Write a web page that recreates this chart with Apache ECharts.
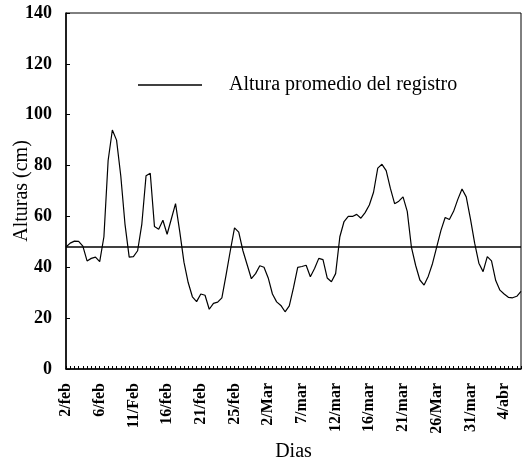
<!DOCTYPE html>
<html>
<head>
<meta charset="utf-8">
<script src="https://cdn.jsdelivr.net/npm/echarts@6/dist/echarts.min.js"></script>
<style>
  html, body { margin: 0; padding: 0; background: #fff; }
  #chart { width: 526px; height: 467px; }
</style>
</head>
<body>
<div id="chart"></div>
<script>
// --- datos ---
// etiquetas del eje X (una cada 8 marcas)
const dateLabels = ['2/feb', '6/feb', '11/Feb', '16/feb', '21/feb', '25/feb', '2/Mar',
  '7/mar', '12/mar', '16/mar', '21/mar', '26/Mar', '31/mar', '4/abr'];
const labelStep = 8;

// alturas registradas (cm)
const alturas = [
  48, 49.5, 50.3, 50.2, 48.3, 42.5, 43.5, 44, 42.2, 52,
  82, 94, 90, 76, 57, 44, 44.2, 46.5, 57, 76,
  77, 56, 55, 58.5, 53, 59, 65, 54, 42, 34,
  28.4, 26.5, 29.5, 29, 23.5, 25.8, 26.3, 28, 37, 46.5,
  55.5, 53.8, 46.5, 41, 35.5, 37.5, 40.6, 40, 35.8, 29.5,
  26.4, 25, 22.5, 24.8, 32, 40, 40.3, 40.8, 36.3, 39.5,
  43.5, 43, 35.8, 34.3, 37.5, 52, 58, 60, 60, 60.8,
  59.3, 61.5, 64.5, 69.5, 79, 80.5, 78, 71, 65, 66,
  67.7, 62, 47.8, 40.7, 35, 33, 36.5, 41.5, 48, 54.5,
  59.6, 58.8, 62, 66.7, 70.8, 67.7, 59, 49.5, 41.6, 38.3,
  44.2, 42.5, 34.8, 31, 29.5, 28.2, 28, 28.6, 30.5
];

// altura promedio del registro (cm)
const alturaPromedio = 48;

const yTicks = { min: 0, max: 140, step: 20 };

// categorías: una por marca, con etiqueta cada labelStep
const categorias = alturas.map((v, i) =>
  (i % labelStep === 0 && dateLabels[i / labelStep]) ? dateLabels[i / labelStep] : '');

const font = "'Liberation Serif', 'DejaVu Serif', serif";

const chart = echarts.init(document.getElementById('chart'));
const option = {
  animation: false,
  backgroundColor: '#fff',
  textStyle: { fontFamily: font, color: '#000' },
  grid: {
    left: 66, right: 5, top: 13, bottom: 98,
    outerBoundsMode: 'none',
    show: true, borderColor: '#000', borderWidth: 1
  },
  legend: {
    left: 133, top: 70,
    itemWidth: 64, itemHeight: 1.5,
    icon: 'rect',
    data: ['Altura promedio del registro'],
    textStyle: { fontFamily: font, fontSize: 20, color: '#000', padding: [0, 0, 0, 22] }
  },
  xAxis: {
    type: 'category',
    boundaryGap: false,
    data: categorias,
    name: 'Dias',
    nameLocation: 'middle',
    nameGap: 73,
    nameMoveOverlap: false,
    nameTextStyle: { fontFamily: font, fontSize: 20, color: '#000' },
    axisLine: { lineStyle: { color: '#000', width: 1.5 } },
    axisTick: { inside: true, length: 3, interval: 0, lineStyle: { color: '#000' } },
    axisLabel: {
      interval: (i, v) => v !== '',
      rotate: 90,
      margin: 14,
      fontFamily: font, fontSize: 16, fontWeight: 'bold', color: '#000'
    },
    splitLine: { show: false }
  },
  yAxis: {
    type: 'value',
    min: yTicks.min, max: yTicks.max, interval: yTicks.step,
    name: 'Alturas (cm)',
    nameLocation: 'middle',
    nameGap: 34,
    nameMoveOverlap: false,
    nameTextStyle: { fontFamily: font, fontSize: 20, color: '#000' },
    axisLine: { show: true, lineStyle: { color: '#000', width: 1.5 } },
    axisTick: { show: true, inside: true, length: 4, lineStyle: { color: '#000' } },
    axisLabel: { margin: 14, fontFamily: font, fontSize: 18, fontWeight: 'bold', color: '#000' },
    splitLine: { show: false }
  },
  series: [
    {
      name: 'Alturas',
      type: 'line',
      data: alturas,
      symbol: 'none',
      lineStyle: { color: '#000', width: 1.2 },
      itemStyle: { color: '#000' }
    },
    {
      name: 'Altura promedio del registro',
      type: 'line',
      data: [],
      symbol: 'none',
      lineStyle: { color: '#000', width: 1.5 },
      itemStyle: { color: '#000' },
      markLine: {
        silent: true,
        symbol: 'none',
        label: { show: false },
        lineStyle: { color: '#000', width: 1.5, type: 'solid' },
        data: [{ yAxis: alturaPromedio }]
      }
    }
  ]
};
chart.setOption(option);
</script>
</body>
</html>
